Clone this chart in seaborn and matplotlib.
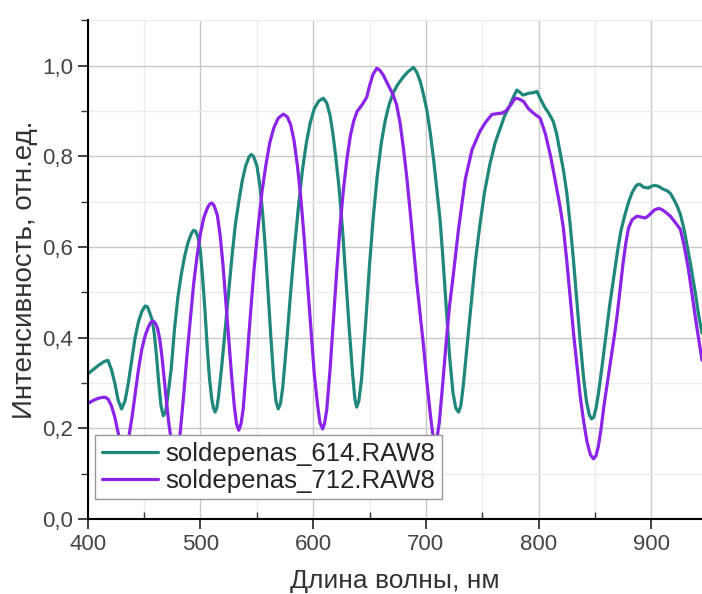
import pandas as pd
import matplotlib
matplotlib.use("Agg")
import matplotlib.pyplot as plt
import seaborn as sns
from matplotlib.ticker import MultipleLocator, FixedLocator, FixedFormatter

# --- Daten: (Wellenlänge nm, Intensität) ---
curve_614 = [
    (400, 0.32), (405, 0.33), (410, 0.34), (415, 0.348), (418, 0.35), (421, 0.33), (424, 0.30),
    (427, 0.262), (430, 0.243), (433, 0.26), (436, 0.30), (439, 0.35), (442, 0.40), (445, 0.435),
    (448, 0.458), (451, 0.47), (453, 0.468), (455, 0.455), (457, 0.44), (459, 0.41), (461, 0.36),
    (463, 0.30), (465, 0.25), (467, 0.228), (469, 0.235), (471, 0.27), (474, 0.33), (477, 0.42),
    (480, 0.49), (483, 0.54), (486, 0.58), (489, 0.61), (492, 0.63), (494, 0.637), (496, 0.634),
    (498, 0.62), (500, 0.59), (502, 0.53), (504, 0.46), (506, 0.38), (508, 0.31), (510, 0.265),
    (511.5, 0.245), (513, 0.236), (514.5, 0.245), (516, 0.27), (519, 0.34), (522, 0.42), (525, 0.50),
    (528, 0.58), (531, 0.65), (534, 0.70), (537, 0.745), (540, 0.778), (543, 0.798), (545, 0.804),
    (547, 0.80), (550, 0.78), (552.5, 0.74), (555, 0.68), (557.5, 0.60), (560, 0.50), (562.5, 0.40),
    (565, 0.31), (567, 0.26), (569, 0.243), (571, 0.255), (573, 0.29), (576.5, 0.39), (580, 0.50),
    (583.5, 0.60), (587, 0.69), (590.5, 0.77), (594, 0.83), (597.5, 0.875), (601, 0.905), (605, 0.922),
    (609, 0.928), (612, 0.918), (615, 0.89), (617.5, 0.85), (620, 0.80), (623, 0.73), (626, 0.64),
    (629, 0.53), (632, 0.42), (635, 0.32), (637, 0.265), (638.6, 0.247), (640.5, 0.26), (643, 0.31),
    (646.5, 0.43), (650, 0.56), (653.5, 0.67), (657, 0.76), (660.5, 0.83), (664, 0.88), (667.5, 0.915),
    (671, 0.94), (675, 0.958), (680, 0.975), (684, 0.986), (689, 0.996), (692, 0.985), (695, 0.965),
    (698, 0.935), (701, 0.90), (704, 0.85), (707, 0.79), (710, 0.72), (712.6, 0.66), (715, 0.58),
    (718, 0.47), (721, 0.36), (724, 0.28), (726.5, 0.245), (729, 0.236), (731, 0.25), (733, 0.29),
    (736.5, 0.38), (740, 0.47), (744, 0.57), (748, 0.65), (752, 0.72), (757, 0.785), (761.5, 0.83),
    (766, 0.862), (770, 0.89), (774, 0.91), (777.5, 0.93), (780.7, 0.946), (783, 0.942), (786, 0.935),
    (789, 0.937), (791, 0.939), (795, 0.94), (798.5, 0.943), (801, 0.93), (805, 0.91), (809, 0.895),
    (813, 0.877), (816, 0.85), (819, 0.81), (822, 0.77), (825, 0.72), (828, 0.65), (831, 0.57),
    (834, 0.48), (837, 0.39), (840, 0.31), (842.5, 0.26), (845, 0.23), (847, 0.221), (849, 0.225),
    (851, 0.245), (853, 0.275), (856.5, 0.34), (860, 0.41), (863, 0.47), (866.5, 0.53), (870, 0.59),
    (873, 0.635), (876.5, 0.67), (880, 0.70), (883, 0.72), (886, 0.733), (888, 0.738), (890, 0.738),
    (893, 0.732), (897.6, 0.73), (900, 0.734), (903.5, 0.736), (907, 0.733), (910, 0.728), (914, 0.724),
    (917, 0.718), (920, 0.705), (923, 0.69), (925.8, 0.672), (929, 0.64), (932, 0.60), (935, 0.56),
    (939, 0.50), (942, 0.45), (945, 0.41),
]

curve_712 = [
    (400, 0.255), (405, 0.262), (410, 0.267), (415, 0.269), (418, 0.265), (421, 0.25), (424, 0.225),
    (427, 0.19), (430, 0.16), (432, 0.15), (434, 0.155), (436, 0.175), (439, 0.22), (442, 0.275),
    (445, 0.33), (448, 0.375), (451, 0.405), (454, 0.425), (456, 0.434), (458, 0.437), (460, 0.432),
    (462, 0.42), (464, 0.395), (466, 0.355), (468, 0.305), (470, 0.255), (472, 0.21), (474, 0.175),
    (476, 0.155), (478, 0.15), (480, 0.158), (482, 0.19), (485, 0.27), (488, 0.36), (491, 0.44),
    (494, 0.52), (497, 0.58), (500, 0.63), (503, 0.665), (506, 0.685), (508, 0.694), (510, 0.697),
    (512, 0.692), (515, 0.67), (517.5, 0.625), (520, 0.56), (522.5, 0.48), (525, 0.40), (527.5, 0.32),
    (530, 0.25), (532, 0.21), (534, 0.196), (536, 0.21), (538, 0.245), (541, 0.34), (544, 0.44),
    (547.5, 0.55), (551, 0.64), (554.5, 0.72), (558, 0.78), (561.5, 0.83), (565, 0.862), (569, 0.884),
    (573.5, 0.893), (577, 0.887), (580, 0.87), (583, 0.835), (586, 0.78), (589, 0.71), (592, 0.62),
    (595, 0.52), (598, 0.42), (601, 0.32), (604, 0.25), (606, 0.213), (608.4, 0.199), (610, 0.21),
    (612, 0.24), (615, 0.33), (618, 0.44), (621, 0.55), (624, 0.65), (627, 0.73), (630, 0.795),
    (633, 0.845), (636, 0.878), (639, 0.899), (643, 0.912), (647.5, 0.93), (650, 0.955), (653, 0.98),
    (656.4, 0.994), (659, 0.99), (662, 0.98), (665, 0.965), (668, 0.95), (671, 0.935), (674, 0.914),
    (677, 0.875), (680, 0.82), (683, 0.755), (686, 0.68), (689, 0.60), (692, 0.52), (695, 0.45),
    (698, 0.38), (701, 0.30), (704, 0.23), (706, 0.19), (708, 0.17), (710, 0.18), (712, 0.215),
    (715, 0.30), (718, 0.39), (721, 0.47), (724.4, 0.54), (729, 0.64), (735, 0.75), (741, 0.815),
    (748, 0.855), (753, 0.875), (758.5, 0.892), (763, 0.894), (767.4, 0.895), (771, 0.90), (775, 0.912),
    (779.2, 0.928), (782, 0.927), (786.6, 0.921), (791, 0.905), (795.5, 0.895), (801.4, 0.884),
    (806, 0.85), (810.3, 0.804), (813, 0.77), (816, 0.73), (819, 0.69), (822, 0.642), (825, 0.57),
    (828, 0.49), (831, 0.41), (834, 0.34), (837, 0.27), (840, 0.215), (843, 0.17), (846, 0.142),
    (848.8, 0.133), (851, 0.14), (853, 0.16), (855.5, 0.20), (858, 0.25), (861, 0.30), (864, 0.35),
    (867, 0.40), (869.5, 0.445), (872.5, 0.51), (875, 0.565), (877.5, 0.61), (879.8, 0.642),
    (883, 0.66), (887.3, 0.668), (891, 0.666), (894.7, 0.664), (897, 0.668), (900, 0.675), (903, 0.682),
    (906.5, 0.685), (909, 0.683), (912, 0.678), (916.9, 0.668), (921, 0.655), (925.8, 0.639),
    (929, 0.605), (933, 0.55), (936.5, 0.49), (940, 0.43), (942.5, 0.39), (945, 0.35),
]

labels = ["soldepenas_614.RAW8", "soldepenas_712.RAW8"]
colors = ["#1f877c", "#8b24e8"]

y_ticks = [0.0, 0.2, 0.4, 0.6, 0.8, 1.0]
y_ticklabels = ["0,0", "0,2", "0,4", "0,6", "0,8", "1,0"]

df = pd.concat([
    pd.DataFrame(curve_614, columns=["wl", "val"]).assign(serie=labels[0]),
    pd.DataFrame(curve_712, columns=["wl", "val"]).assign(serie=labels[1]),
])

sns.set_theme(style="ticks")
plt.rcParams['font.family'] = ['Liberation Sans', 'DejaVu Sans']

fig = plt.figure(figsize=(7.02, 5.94), dpi=100)
ax = fig.add_axes([0.125, 0.126, 0.875, 0.84])

sns.lineplot(data=df, x="wl", y="val", hue="serie", palette=colors, sort=False,
             linewidth=2.3, ax=ax, estimator=None)
for ln in ax.get_lines():
    ln.set_solid_joinstyle("round")
    ln.set_solid_capstyle("round")

ax.set_xlim(400, 945)
ax.set_ylim(0, 1.1)

ax.xaxis.set_major_locator(MultipleLocator(100))
ax.xaxis.set_minor_locator(MultipleLocator(50))
ax.yaxis.set_major_locator(FixedLocator(y_ticks))
ax.yaxis.set_major_formatter(FixedFormatter(y_ticklabels))
ax.yaxis.set_minor_locator(MultipleLocator(0.1))

ax.grid(True, which="major", color="#c8c8c8", linewidth=1.0)
ax.grid(True, which="minor", color="#ececec", linewidth=1.0)
ax.set_axisbelow(True)

for s in ["top", "right"]:
    ax.spines[s].set_visible(False)
for s in ["left", "bottom"]:
    ax.spines[s].set_color("black")
    ax.spines[s].set_linewidth(1.5)

ax.tick_params(axis="both", which="major", labelsize=16, labelcolor="#444444",
               color="#333333", length=7, width=1.3)
ax.tick_params(axis="x", which="major", direction="out")
ax.tick_params(axis="x", which="minor", direction="in", length=5, width=1.0, color="#333333")
ax.tick_params(axis="y", which="minor", direction="out", length=5, width=1.0, color="#333333")

ax.set_xlabel("Длина волны, нм", fontsize=19, color="#333333", labelpad=10)
ax.set_ylabel("Интенсивность, отн.ед.", fontsize=20, color="#333333", labelpad=3)

leg = ax.legend(loc="lower left", bbox_to_anchor=(0.012, 0.04), fontsize=18.5, frameon=True,
                fancybox=False, handlelength=2.2, borderpad=0.25, labelspacing=0.12,
                handletextpad=0.3, borderaxespad=0)
leg.get_frame().set_edgecolor("#999999")
leg.get_frame().set_linewidth(1.0)
leg.get_frame().set_alpha(1.0)

fig.savefig("out.png", dpi=100)
